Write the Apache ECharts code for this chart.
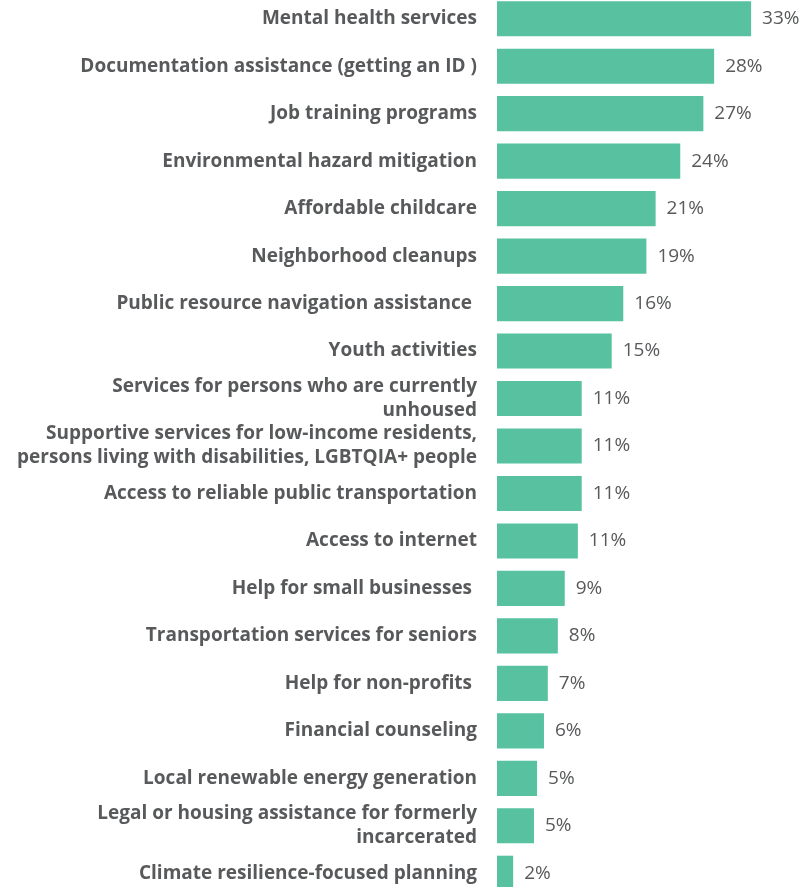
<!DOCTYPE html>
<html>
<head>
<meta charset="utf-8">
<script src="https://cdn.jsdelivr.net/npm/echarts@6/dist/echarts.min.js"></script>
<style>
  html, body { margin: 0; padding: 0; background: #fff; overflow: hidden; }
  #main { position: absolute; left: 0; top: -5px; width: 811px; height: 902px; }
</style>
</head>
<body>
<div id="main"></div>
<script>
// categories top to bottom
var categories = [
    'Mental health services',
    'Documentation assistance (getting an ID )',
    'Job training programs',
    'Environmental hazard mitigation',
    'Affordable childcare',
    'Neighborhood cleanups',
    'Public resource navigation assistance ',
    'Youth activities',
    'Services for persons who are currently\nunhoused',
    'Supportive services for low-income residents,\npersons living with disabilities, LGBTQIA+ people',
    'Access to reliable public transportation',
    'Access to internet',
    'Help for small businesses ',
    'Transportation services for seniors',
    'Help for non-profits ',
    'Financial counseling',
    'Local renewable energy generation',
    'Legal or housing assistance for formerly\nincarcerated',
    'Climate resilience-focused planning'
];
// percent
var values = [33, 28.2, 26.8, 23.8, 20.6, 19.4, 16.4, 14.9, 11.0, 11.0, 11.0, 10.5, 8.8, 7.9, 6.6, 6.1, 5.2, 4.8, 2.1];

var myChart = echarts.init(document.getElementById('main'));

option = {
    animation: false,
    grid: {
        left: 497,
        right: 6,
        top: 0,
        bottom: 0,
        containLabel: false
    },
    xAxis: {
        type: 'value',
        min: 0,
        max: 40,
        show: false
    },
    yAxis: {
        type: 'category',
        inverse: true,
        data: categories,
        axisLine: { show: false },
        axisTick: { show: false },
        splitLine: { show: false },
        axisLabel: {
            margin: 20,
            color: '#58595b',
            fontFamily: 'Open Sans',
            fontWeight: 'bold',
            fontSize: 19,
            lineHeight: 24,
            align: 'right'
        }
    },
    series: [
        {
            type: 'bar',
            data: values,
            barCategoryGap: '26%',
            itemStyle: {
                color: '#57c1a0'
            },
            label: {
                show: true,
                position: 'right',
                distance: 11,
                color: '#58595b',
                fontFamily: 'Open Sans',
                fontSize: 19,
                formatter: function (p) {
                    return Math.round(p.value) + '%';
                }
            }
        }
    ]
};
myChart.setOption(option);
</script>
</body>
</html>
